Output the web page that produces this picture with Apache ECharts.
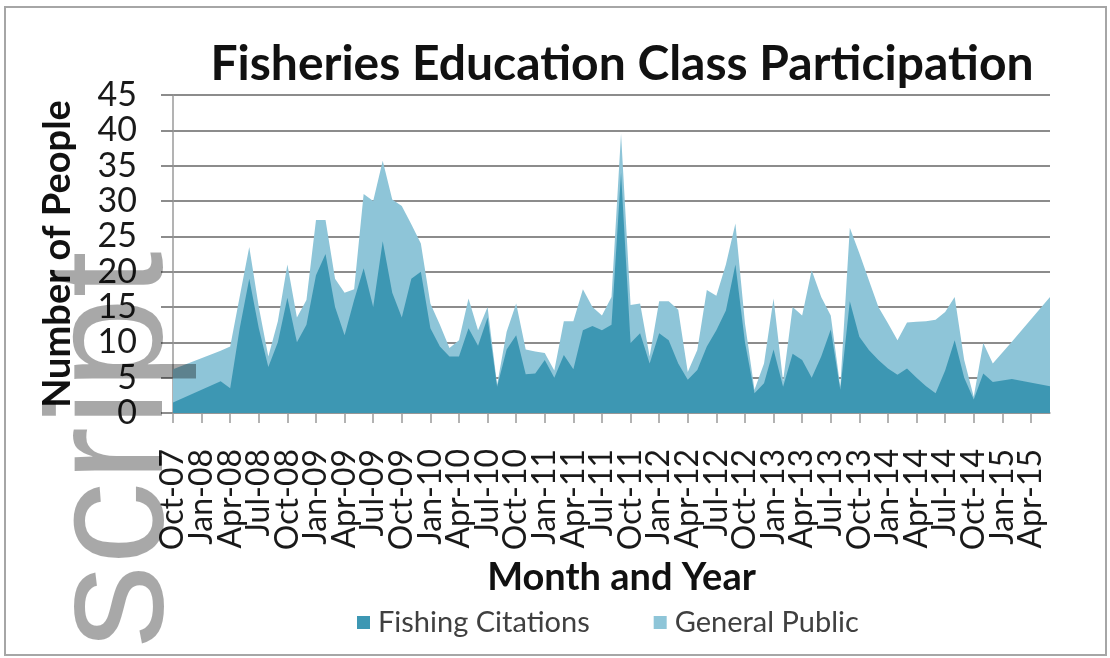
<!DOCTYPE html>
<html>
<head>
<meta charset="utf-8">
<title>Fisheries Education Class Participation</title>
<script src="https://cdn.jsdelivr.net/npm/echarts@6/dist/echarts.min.js"></script>
<style>
  html, body { margin: 0; padding: 0; background: #ffffff; }
  #chart { width: 1110px; height: 658px; }
</style>
</head>
<body>
<div id="chart"></div>
<script>
// Quarterly tick labels along the month axis (Oct-07 .. Apr-15)
const tickLabels = [
  'Oct-07', 'Jan-08', 'Apr-08', 'Jul-08', 'Oct-08', 'Jan-09', 'Apr-09', 'Jul-09',
  'Oct-09', 'Jan-10', 'Apr-10', 'Jul-10', 'Oct-10', 'Jan-11', 'Apr-11', 'Jul-11',
  'Oct-11', 'Jan-12', 'Apr-12', 'Jul-12', 'Oct-12', 'Jan-13', 'Apr-13', 'Jul-13',
  'Oct-13', 'Jan-14', 'Apr-14', 'Jul-14', 'Oct-14', 'Jan-15', 'Apr-15'
];

// Months with recorded class numbers
const months = [
  'Oct-07', 'Mar-08', 'Apr-08', 'May-08', 'Jun-08', 'Jul-08', 'Aug-08', 'Sep-08',
  'Oct-08', 'Nov-08', 'Dec-08', 'Jan-09', 'Feb-09', 'Mar-09', 'Apr-09', 'May-09',
  'Jun-09', 'Jul-09', 'Aug-09', 'Sep-09', 'Oct-09', 'Nov-09', 'Dec-09', 'Jan-10',
  'Feb-10', 'Mar-10', 'Apr-10', 'May-10', 'Jun-10', 'Jul-10', 'Aug-10', 'Sep-10',
  'Oct-10', 'Nov-10', 'Dec-10', 'Jan-11', 'Feb-11', 'Mar-11', 'Apr-11', 'May-11',
  'Jun-11', 'Jul-11', 'Aug-11', 'Sep-11', 'Oct-11', 'Nov-11', 'Dec-11', 'Jan-12',
  'Feb-12', 'Mar-12', 'Apr-12', 'May-12', 'Jun-12', 'Jul-12', 'Aug-12', 'Sep-12',
  'Oct-12', 'Nov-12', 'Dec-12', 'Jan-13', 'Feb-13', 'Mar-13', 'Apr-13', 'May-13',
  'Jun-13', 'Jul-13', 'Aug-13', 'Sep-13', 'Oct-13', 'Nov-13', 'Dec-13', 'Jan-14',
  'Feb-14', 'Mar-14', 'Apr-14', 'May-14', 'Jun-14', 'Jul-14', 'Aug-14', 'Sep-14',
  'Oct-14', 'Nov-14', 'Dec-14', 'Feb-15', 'Jun-15'
];

const fishingCitations = [
  1.5, 4.5, 3.5, 12, 19, 12, 6.5, 10,
  16.3, 10, 12.5, 19.5, 22.5, 15, 11, 16,
  20.5, 15, 24.3, 17, 13.5, 19, 20, 12,
  9.4, 8, 8, 12, 9.5, 13.5, 3.7, 9,
  11, 5.5, 5.6, 7.5, 5, 8.2, 6.2, 11.7,
  12.3, 11.7, 12.5, 34, 9.9, 11.3, 7, 11.3,
  10.3, 7, 4.7, 6.1, 9.4, 11.7, 14.5, 21,
  10, 2.8, 4.2, 9, 3.7, 8.4, 7.5, 5,
  8, 11.8, 3.3, 15.8, 10.8, 8.9, 7.5, 6.3,
  5.4, 6.3, 5, 3.8, 2.8, 6, 10.3, 5,
  1.9, 5.6, 4.4, 4.8, 3.8
];

const generalPublic = [
  4.7, 4.3, 5.9, 4.5, 4.5, 3, 1.5, 3,
  4.7, 3.5, 3.5, 7.8, 4.8, 4, 6, 1.5,
  10.5, 15, 11.4, 13.2, 15.8, 7.7, 4, 3.5,
  3.1, 1.2, 2.3, 4.2, 2.2, 1.5, 0.3, 2.5,
  4.5, 3.5, 3.1, 1, 1, 4.8, 6.8, 5.8,
  2.7, 2.1, 3.9, 5.5, 5.4, 4.2, 1, 4.5,
  5.5, 7.6, 1.1, 2.8, 8, 4.9, 6.5, 5.8,
  2.7, 0.5, 2.8, 7.2, 0.8, 6.6, 6.3, 15.2,
  8.4, 2, 0.4, 10.4, 11.8, 9.9, 7.5, 6.4,
  4.9, 6.5, 7.9, 9.2, 10.4, 8.3, 6.1, 2.5,
  0.4, 4.3, 2.6, 5.3, 12.6
];

const monthNames = ['Jan', 'Feb', 'Mar', 'Apr', 'May', 'Jun', 'Jul', 'Aug', 'Sep', 'Oct', 'Nov', 'Dec'];

// Month label -> number of months since the first tick (Oct-07)
function monthIndex(label) {
  const [mon, yy] = label.split('-');
  const count = (2000 + Number(yy)) * 12 + monthNames.indexOf(mon);
  const [m0, y0] = tickLabels[0].split('-');
  return count - ((2000 + Number(y0)) * 12 + monthNames.indexOf(m0));
}

const xs = months.map(monthIndex);
const lastIndex = monthIndex('Jun-15');

// Tick positions (one per quarter) and label positions; the two half-step
// blank labels keep the first and last quarter labels from being dropped
// by the axis's end-label overlap check.
const quarterTicks = tickLabels.map(monthIndex);
const labelValues = [0, 1.5].concat(quarterTicks.slice(1), [quarterTicks[quarterTicks.length - 1] + 1.5]);

// General Public sits on top of Fishing Citations: its area reaches the monthly total
const fishingPoints = xs.map((x, i) => [x, fishingCitations[i]]);
const totalPoints = xs.map((x, i) => [x, +(fishingCitations[i] + generalPublic[i]).toFixed(2)]);

const font = 'Lato';
const dark = '#3d97b3';
const light = '#8ec5d8';

const chart = echarts.init(document.getElementById('chart'));

chart.setOption({
  backgroundColor: '#ffffff',
  animation: false,
  title: {
    text: 'Fisheries Education Class Participation',
    left: 617,
    top: 36,
    textAlign: 'center',
    textStyle: { fontFamily: font, fontWeight: 'bold', fontSize: 48, color: '#111111' }
  },
  legend: {
    data: ['Fishing Citations', 'General Public'],
    left: 357,
    top: 608,
    padding: 0,
    icon: 'rect',
    itemWidth: 13,
    itemHeight: 13,
    itemGap: 64,
    textStyle: { fontFamily: font, fontSize: 29, color: '#404040', padding: [0, 0, 0, 3] }
  },
  grid: { left: 173, right: 60, top: 95, bottom: 245 },
  xAxis: {
    type: 'value',
    min: 0,
    max: lastIndex,
    name: 'Month and Year',
    nameLocation: 'middle',
    nameGap: 146,
    nameTextStyle: { fontFamily: font, fontWeight: 'bold', fontSize: 38, color: '#111111', padding: [0, 0, 0, 20] },
    axisLine: { lineStyle: { color: '#9a9a9a', width: 1.5 } },
    axisTick: { length: 10, customValues: quarterTicks, lineStyle: { color: '#9a9a9a', width: 1.5 } },
    splitLine: { show: false },
    axisLabel: {
      customValues: labelValues,
      rotate: 90,
      margin: 36,
      fontFamily: font,
      fontSize: 32,
      color: '#1a1a1a',
      showMinLabel: true,
      formatter: v => (v % 3 === 0 ? tickLabels[v / 3] : '')
    }
  },
  yAxis: {
    type: 'value',
    min: 0,
    max: 45,
    interval: 5,
    name: 'Number of People',
    nameLocation: 'middle',
    nameGap: 96,
    nameTextStyle: { fontFamily: font, fontWeight: 'bold', fontSize: 38, color: '#111111' },
    axisLine: { show: true, lineStyle: { color: '#9a9a9a', width: 1.5 } },
    axisTick: { show: true, length: 12, lineStyle: { color: '#8c8c8c', width: 2 } },
    splitLine: { lineStyle: { color: '#8c8c8c', width: 2 } },
    axisLabel: { margin: 36, fontFamily: font, fontSize: 34, color: '#1a1a1a' }
  },
  series: [
    {
      name: 'General Public',
      type: 'line',
      z: 2,
      symbol: 'none',
      lineStyle: { width: 0 },
      itemStyle: { color: light },
      areaStyle: { color: light, opacity: 1 },
      data: totalPoints
    },
    {
      name: 'Fishing Citations',
      type: 'line',
      z: 3,
      symbol: 'none',
      lineStyle: { width: 0 },
      itemStyle: { color: dark },
      areaStyle: { color: dark, opacity: 1 },
      data: fishingPoints
    }
  ],
  graphic: [
    {
      type: 'rect',
      z: -10,
      silent: true,
      shape: { x: 5, y: 7, width: 1101, height: 648 },
      style: { fill: 'none', stroke: '#a6a6a6', lineWidth: 2 }
    },
    {
      type: 'text',
      z: 100,
      silent: true,
      x: 116,
      y: 648,
      rotation: Math.PI / 2,
      style: {
        text: 'script',
        fontFamily: 'Liberation Sans',
        fontSize: 166,
        fill: 'rgba(0,0,0,0.34)',
        align: 'left',
        verticalAlign: 'middle'
      }
    }
  ]
});
</script>
</body>
</html>
